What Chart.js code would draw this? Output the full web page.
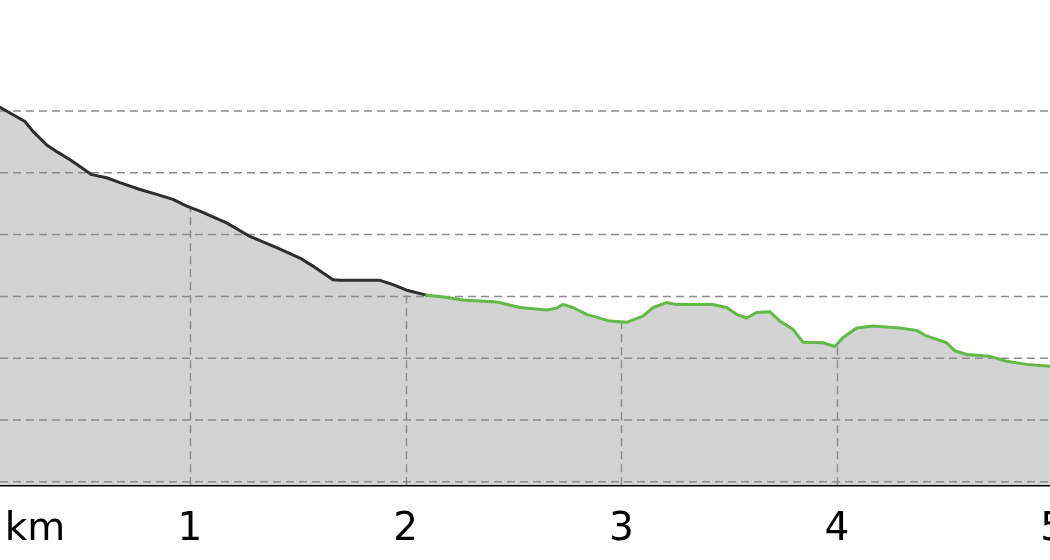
<!DOCTYPE html>
<html>
<head>
<meta charset="utf-8">
<script src="https://cdn.jsdelivr.net/npm/chart.js@4"></script>
<style>
  html, body { margin: 0; padding: 0; background: #ffffff; overflow: hidden; }
  #wrap { position: relative; width: 1150px; height: 583px; }
</style>
</head>
<body>
<div id="wrap"><canvas id="c"></canvas></div>
<script>
// Distance along the route (km)
const kmValues = [0.05, 0.119, 0.235, 0.272, 0.336, 0.388, 0.444, 0.498, 0.544, 0.614, 0.675, 0.768, 0.846, 0.921, 0.985, 1.046, 1.170, 1.278, 1.402, 1.510, 1.570, 1.663, 1.695, 1.881, 1.941, 2.005, 2.097, 2.159, 2.266, 2.422, 2.530, 2.654, 2.700, 2.729, 2.776, 2.839, 2.947, 3.025, 3.100, 3.147, 3.210, 3.256, 3.425, 3.488, 3.535, 3.581, 3.627, 3.689, 3.735, 3.795, 3.842, 3.935, 3.990, 4.027, 4.091, 4.166, 4.292, 4.369, 4.415, 4.508, 4.546, 4.601, 4.709, 4.786, 4.879, 4.987, 5.05];
// Elevation (m)
const elevValues = [201.9, 200.6, 198.3, 196.7, 194.5, 193.3, 192.1, 190.8, 189.7, 189.2, 188.4, 187.3, 186.5, 185.7, 184.6, 183.8, 181.9, 179.7, 177.9, 176.2, 174.9, 172.7, 172.6, 172.6, 171.9, 171.0, 170.2, 170.0, 169.4, 169.1, 168.2, 167.8, 168.1, 168.7, 168.2, 167.1, 166.0, 165.8, 166.8, 168.2, 169.0, 168.7, 168.7, 168.2, 167.1, 166.5, 167.4, 167.5, 166.0, 164.7, 162.6, 162.5, 161.9, 163.3, 164.9, 165.2, 164.9, 164.5, 163.6, 162.5, 161.2, 160.6, 160.3, 159.5, 159.0, 158.7, 158.6];
// Where the track changes from the dark section to the green section (km)
const splitKm = 2.097;
// Tick labels / grid levels
const xTickValues = [1, 2, 3, 4, 5];
const elevGridValues = [140, 150, 160, 170, 180, 190, 200];
const unitLabel = 'km';

const DARK = '#2e2e2e';
const GREEN = '#62b946';
const GRID = '#8c8c8c';
const FONT = "'DejaVu Sans', sans-serif";
const FONT_SIZE = 39;
const TICK_PAD = 21;

function elevAt(k) {
  for (let i = 0; i < kmValues.length - 1; i++) {
    if (k >= kmValues[i] && k <= kmValues[i + 1]) {
      const t = (k - kmValues[i]) / (kmValues[i + 1] - kmValues[i]);
      return elevValues[i] + t * (elevValues[i + 1] - elevValues[i]);
    }
  }
  return null;
}

const profileGrid = {
  id: 'profileGrid',
  beforeDatasetsDraw(chart) {
    const { ctx, chartArea: a, scales: { x, y } } = chart;
    ctx.save();
    ctx.beginPath();
    ctx.rect(a.left, a.top, a.right - a.left, a.bottom - a.top);
    ctx.clip();
    ctx.setLineDash([8, 5]);
    ctx.lineWidth = 1.5;
    ctx.strokeStyle = GRID;
    elevGridValues.forEach(v => {
      const py = y.getPixelForValue(v);
      ctx.beginPath();
      ctx.moveTo(a.left, py);
      ctx.lineTo(a.right, py);
      ctx.stroke();
    });
    xTickValues.forEach(k => {
      const e = elevAt(k);
      if (e === null) return;
      const px = Math.round(x.getPixelForValue(k)) + 0.5;
      ctx.beginPath();
      ctx.moveTo(px, a.bottom);
      ctx.lineTo(px, y.getPixelForValue(e));
      ctx.stroke();
    });
    ctx.restore();
  },
  afterDraw(chart) {
    const { ctx, chartArea: a } = chart;
    const items = chart.scales.x.getLabelItems ? chart.scales.x.getLabelItems() : [];
    let yPos = a.bottom + TICK_PAD + FONT_SIZE * 1.2 / 2;
    let baseline = 'middle';
    if (items && items.length) {
      yPos = items[0].options.translation[1] + (items[0].textOffset || 0);
      baseline = items[0].options.textBaseline || 'middle';
    }
    ctx.save();
    ctx.font = FONT_SIZE + 'px ' + FONT;
    ctx.fillStyle = '#000000';
    ctx.textAlign = 'center';
    ctx.textBaseline = baseline;
    ctx.fillText(unitLabel, 35, yPos);
    ctx.restore();
  }
};

const PX_PER_KM = 215.67;
const X_MIN = 25.67 / PX_PER_KM;
const X_MAX = X_MIN + 1150 / PX_PER_KM;

const points = kmValues.map((k, i) => ({ x: k, y: elevValues[i] }));

new Chart(document.getElementById('c'), {
  type: 'line',
  data: {
    datasets: [{
      // track line
      data: points,
      borderWidth: 3,
      borderColor: DARK,
      borderJoinStyle: 'round',
      borderCapStyle: 'round',
      fill: false,
      pointRadius: 0,
      tension: 0,
      segment: {
        borderColor: c => (c.p0.parsed.x >= splitKm ? GREEN : DARK)
      }
    }, {
      // area under the profile
      data: points,
      borderWidth: 0,
      borderColor: 'rgba(0,0,0,0)',
      backgroundColor: '#d3d3d3',
      fill: 'start',
      pointRadius: 0,
      tension: 0
    }]
  },
  options: {
    responsive: true,
    maintainAspectRatio: false,
    animation: false,
    devicePixelRatio: 1,
    layout: { padding: { top: 0, left: 0, right: 0, bottom: 9 } },
    plugins: {
      legend: { display: false },
      tooltip: { enabled: false },
      filler: { drawTime: 'beforeDatasetsDraw' }
    },
    scales: {
      x: {
        type: 'linear',
        min: X_MIN,
        max: X_MAX,
        z: 1,
        afterBuildTicks: s => { s.ticks = xTickValues.map(v => ({ value: v })); },
        grid: { display: false, drawTicks: false },
        border: { display: true, color: '#000000', width: 2.5 },
        ticks: {
          padding: TICK_PAD,
          color: '#000000',
          maxRotation: 0,
          autoSkip: false,
          font: { family: FONT, size: FONT_SIZE },
          callback: v => String(v)
        }
      },
      y: {
        display: false,
        min: 139.45,
        max: 217.96
      }
    }
  },
  plugins: [profileGrid]
});
</script>
</body>
</html>
